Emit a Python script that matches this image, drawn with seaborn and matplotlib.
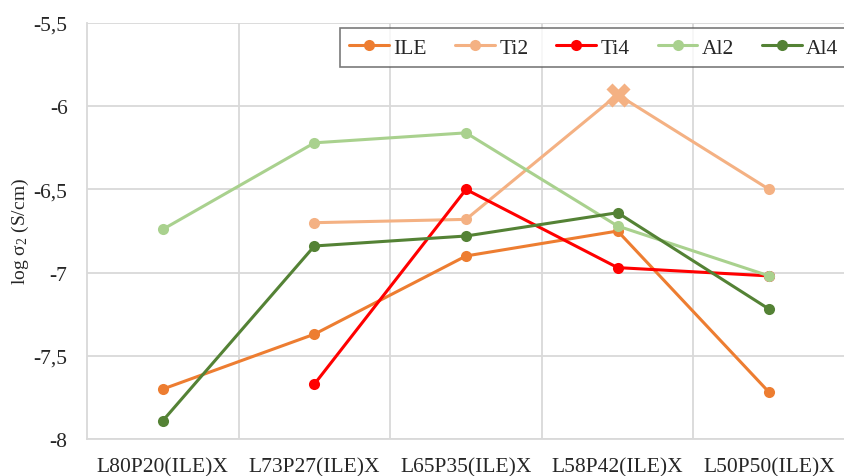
import pandas as pd
import numpy as np
import matplotlib
matplotlib.use('Agg')
import matplotlib.pyplot as plt
import seaborn as sns
from matplotlib.ticker import FuncFormatter, FixedLocator

# kategoriler ve seriler
categories = ['L80P20(ILE)X', 'L73P27(ILE)X', 'L65P35(ILE)X', 'L58P42(ILE)X', 'L50P50(ILE)X']
ile = [-7.70, -7.37, -6.90, -6.75, -7.72]
ti2 = [np.nan, -6.70, -6.68, -5.93, -6.50]
ti4 = [np.nan, -7.67, -6.50, -6.97, -7.02]
al2 = [-6.74, -6.22, -6.16, -6.72, -7.02]
al4 = [-7.89, -6.84, -6.78, -6.64, -7.22]

series = {'ILE': ile, 'Ti2': ti2, 'Ti4': ti4, 'Al2': al2, 'Al4': al4}
colors = {'ILE': '#ED7D31', 'Ti2': '#F4B183', 'Ti4': '#FF0000', 'Al2': '#A9D18E', 'Al4': '#548235'}

sns.set_style('white')
plt.rcParams['font.family'] = ['Liberation Serif', 'DejaVu Serif']
plt.rcParams['mathtext.fontset'] = 'custom'
plt.rcParams['mathtext.rm'] = 'Liberation Serif'

fs = 15.5
fig = plt.figure(figsize=(8.45, 4.77), dpi=100)
ax = fig.add_axes([0.103, 0.0776, 0.897, 0.872])

for name, vals in series.items():
    d = pd.DataFrame({'x': np.arange(len(categories)), 'y': vals}).dropna()
    sns.lineplot(data=d, x='x', y='y', ax=ax, color=colors[name], marker='o',
                 markersize=8, markeredgewidth=0, linewidth=2.2, label=name)

# Ti2 L58P42 noktasi X isaretli
ax.scatter([3], [ti2[3]], marker='X', s=300, color=colors['Ti2'], zorder=5, linewidths=0)

ax.set_xlim(-0.5, 4.5)
ax.set_ylim(-8, -5.5)
ax.yaxis.set_major_locator(FixedLocator(np.arange(-8, -5.49, 0.5)))
ax.yaxis.set_major_formatter(FuncFormatter(lambda v, p: f'{v:g}'.replace('.', ',')))
ax.set_xticks(range(len(categories)))
ax.set_xticklabels(categories)
ax.xaxis.set_minor_locator(FixedLocator([0.5, 1.5, 2.5, 3.5]))

ax.grid(True, which='major', axis='y', color='#D9D9D9', linewidth=1.3)
ax.grid(True, which='minor', axis='x', color='#D9D9D9', linewidth=1.3)
ax.set_axisbelow(True)
for s in ['top', 'right']:
    ax.spines[s].set_visible(False)
ax.spines['left'].set_color('#D9D9D9')
ax.spines['bottom'].set_color('#D9D9D9')
ax.spines['left'].set_linewidth(1.3)
ax.spines['bottom'].set_linewidth(1.3)
ax.tick_params(axis='both', which='both', length=0, labelsize=fs, colors='#262626')
ax.tick_params(axis='y', pad=14)
ax.tick_params(axis='x', pad=13)

ax.set_xlabel('')
ax.set_ylabel(r'log $\mathregular{σ_2}$ (S/cm)', fontsize=14, color='#262626')
ax.yaxis.set_label_coords(-0.074, 0.5)

leg = ax.legend(ncol=5, loc='upper right', bbox_to_anchor=(1.004, 0.988), fontsize=fs,
                frameon=True, fancybox=False, handlelength=1.85, columnspacing=1.3,
                handletextpad=0.2, borderpad=0.45, borderaxespad=0.0)
leg.get_frame().set_edgecolor('#595959')
leg.get_frame().set_linewidth(1.2)

plt.savefig('out.png', dpi=100)
plt.close()
